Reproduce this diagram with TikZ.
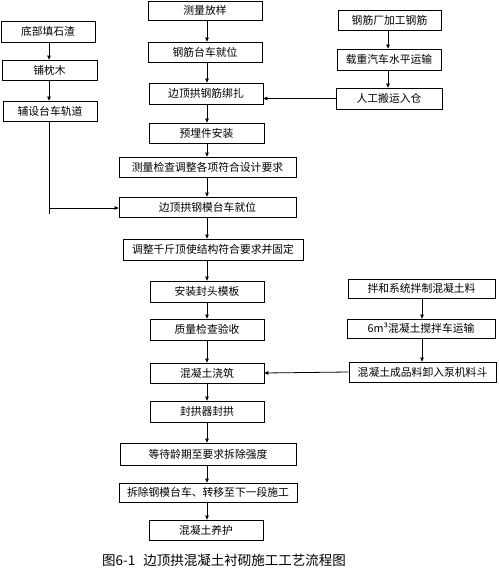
\documentclass[tikz,border=0pt]{standalone}
\usepackage{fontspec}
\newfontfamily\cjk{Noto Sans CJK SC}
\usetikzlibrary{arrows.meta}
\tikzset{
  box/.style={draw=black, line width=0.8pt, inner sep=0pt, font=\cjk\fontsize{10.8}{12}\selectfont, anchor=center},
  arr/.style={line width=0.8pt, -{Triangle[length=4pt,width=3.6pt]}},
  ln/.style={line width=0.8pt}
}
% place a box by its corners: #1 name, #2 x1, #3 y1, #4 x2, #5 y2, #6 text
\newcommand{\bx}[6]{\node[box, minimum width={#4-#2}, minimum height={#5-#3}] (#1) at ({(#2+#4)/2},{(#3+#5)/2}) {#6};}
\begin{document}
\begin{tikzpicture}[x=1pt,y=-1pt]
\useasboundingbox (0,0) rectangle (498,575);
% main column
\bx{A1}{148}{1}{262}{20}{测量放样}
\bx{A2}{148}{42}{262}{62}{钢筋台车就位}
\bx{A3}{149}{83}{263}{104}{边顶拱钢筋绑扎}
\bx{A4}{149}{123}{264}{143}{预埋件安装}
\bx{A5}{119}{157}{296}{177}{测量检查调整各项符合设计要求}
\bx{A6}{119}{197}{296}{217}{边顶拱钢模台车就位}
\bx{A7}{123}{239}{303}{260}{调整千斤顶使结构符合要求并固定}
\bx{A8}{150}{281}{264}{302}{安装封头模板}
\bx{A9}{150}{319}{264}{340}{质量检查验收}
\bx{A10}{150}{363}{264}{383}{混凝土浇筑}
\bx{A11}{150}{401}{264}{422}{封拱器封拱}
\bx{A12}{120}{443}{296}{465}{等待龄期至要求拆除强度}
\bx{A13}{119}{483}{297}{502}{拆除钢模台车、转移至下一段施工}
\bx{A14}{149}{520}{263}{540}{混凝土养护}
% left column
\bx{L1}{1}{21}{95}{42}{底部填石渣}
\bx{L2}{2}{60}{97}{80}{铺枕木}
\bx{L3}{3}{101}{97}{121}{辅设台车轨道}
% right column top
\bx{R1}{338}{10}{441}{30}{钢筋厂加工钢筋}
\bx{R2}{337}{49}{441}{70}{载重汽车水平运输}
\bx{R3}{336}{88}{442}{109}{人工搬运入仓}
% right column bottom
\bx{R4}{348}{279}{495}{298}{拌和系统拌制混凝土料}
\bx{R5}{347}{319}{495}{338}{6m³混凝土搅拌车运输}
\bx{R6}{349}{362}{496}{382}{混凝土成品料卸入泵机料斗}

% reference coordinates for connector lines
\coordinate (mx) at (207,0);
\coordinate (lx) at (49,0);
\coordinate (rx1) at (388,0);
\coordinate (rx2) at (422,0);
\coordinate (jl) at (49,208);
\coordinate (jend) at (49,214);
\coordinate (r3y) at (0,98.5);

% main column arrows
\foreach \a/\b in {A1/A2,A2/A3,A3/A4,A4/A5,A5/A6,A6/A7,A7/A8,A8/A9,A9/A10,A10/A11,A11/A12,A12/A13,A13/A14}
  \draw[arr] (\a.south -| mx) -- (\b.north -| mx);
% left column
\draw[arr] (L1.south -| lx) -- (L2.north -| lx);
\draw[arr] (L2.south -| lx) -- (L3.north -| lx);
\draw[ln] (L3.south -| lx) -- (jend);
\draw[arr] (jl) -- (A6.west |- jl);
% right top
\draw[arr] (R1.south -| rx1) -- (R2.north -| rx1);
\draw[arr] (R2.south -| rx1) -- (R3.north -| rx1);
\draw[arr] (R3.west |- r3y) -- (A3.east |- r3y);
% right bottom
\draw[arr] (R4.south -| rx2) -- (R5.north -| rx2);
\draw[arr] (R5.south -| rx2) -- (R6.north -| rx2);
\draw[arr] (R6.west) -- (A10.east);

% caption
\node[font=\cjk\fontsize{13.5}{15}\selectfont, inner sep=0pt] (cap) at (224,560) {图6-1\hspace{0.6em}边顶拱混凝土衬砌施工工艺流程图};
\end{tikzpicture}
\end{document}
